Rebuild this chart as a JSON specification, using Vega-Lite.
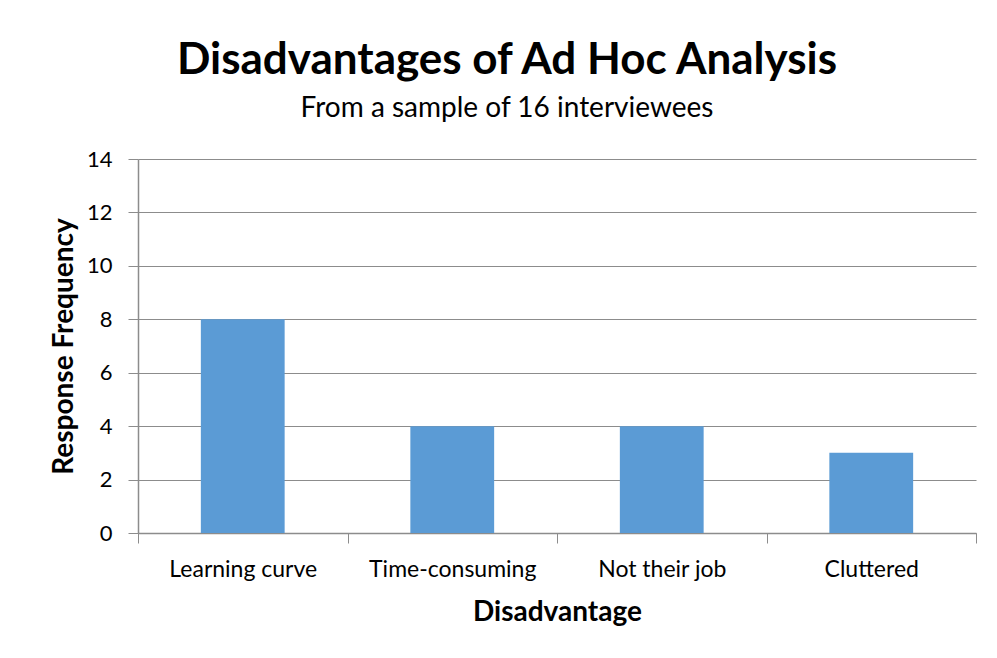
{
  "$schema": "https://vega.github.io/schema/vega-lite/v6.json",
  "autosize": {"type": "none"},
  "width": 838,
  "height": 374,
  "padding": {"left": 138, "top": 159, "right": 21, "bottom": 125},
  "background": "white",
  "title": {
    "text": "Disadvantages of Ad Hoc Analysis",
    "subtitle": "From  a sample of 16 interviewees",
    "anchor": "middle",
    "frame": "group",
    "dx": -50,
    "offset": 25,
    "font": "Lato",
    "fontSize": 44,
    "fontWeight": "bold",
    "color": "#000000",
    "subtitleFont": "Lato",
    "subtitleFontSize": 28,
    "subtitleColor": "#000000",
    "subtitlePadding": 12
  },
  "data": {
    "values": [
      {"Disadvantage": "Learning curve", "Frequency": 8},
      {"Disadvantage": "Time-consuming", "Frequency": 4},
      {"Disadvantage": "Not their job", "Frequency": 4},
      {"Disadvantage": "Cluttered", "Frequency": 3}
    ]
  },
  "mark": {"type": "bar", "color": "#5B9BD5", "width": {"band": 0.4}},
  "encoding": {
    "x": {
      "field": "Disadvantage",
      "type": "nominal",
      "sort": null,
      "scale": {"paddingInner": 0, "paddingOuter": 0},
      "axis": {
        "title": "Disadvantage",
        "titleFont": "Lato",
        "titleFontSize": 28,
        "titleFontWeight": "bold",
        "titleColor": "#000000",
        "titlePadding": 17,
        "labelAngle": 0,
        "labelFont": "Lato",
        "labelFontSize": 23,
        "labelColor": "#000000",
        "labelPadding": 15,
        "bandPosition": 0,
        "tickBand": "extent",
        "tickSize": 10,
        "tickColor": "#8c8c8c",
        "domainColor": "#8c8c8c",
        "domainWidth": 1.5,
        "grid": false
      }
    },
    "y": {
      "field": "Frequency",
      "type": "quantitative",
      "scale": {"domain": [0, 14]},
      "axis": {
        "title": "Response  Frequency",
        "titleFont": "Lato",
        "titleFontSize": 28,
        "titleFontWeight": "bold",
        "titleColor": "#000000",
        "titlePadding": 8,
        "values": [0, 2, 4, 6, 8, 10, 12, 14],
        "labelFont": "Lato",
        "labelFontSize": 22,
        "labelColor": "#000000",
        "labelPadding": 16,
        "tickSize": 10,
        "tickColor": "#8c8c8c",
        "domainColor": "#8c8c8c",
        "domainWidth": 1.5,
        "grid": true,
        "gridColor": "#8c8c8c",
        "gridWidth": 1.2
      }
    }
  },
  "config": {"view": {"stroke": null}}
}
